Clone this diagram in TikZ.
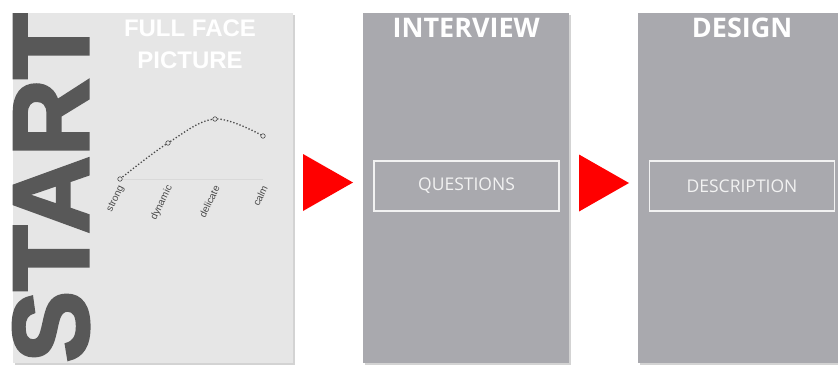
\documentclass[tikz,border=0pt]{standalone}
\usepackage{fontspec}
\setmainfont{Open Sans}
\newfontfamily\arialfont{Liberation Sans}
\newfontfamily\startfont[FakeBold=3]{Liberation Sans}
\usetikzlibrary{positioning,shapes.geometric,shadows}

\definecolor{facegrey}{HTML}{E6E6E6}
\definecolor{panelgrey}{HTML}{A9A9AE}
\definecolor{startgrey}{HTML}{585858}
\definecolor{curvegrey}{HTML}{4A4A4A}
\definecolor{textwhite}{HTML}{F2F2F2}

\tikzset{
  panel/.style={anchor=north west, inner sep=0pt, minimum height=350pt,
    drop shadow={shadow xshift=2pt, shadow yshift=-2pt, opacity=0.35}},
  headline/.style={inner sep=0pt, text=white, font=\bfseries\fontsize{27}{27}\selectfont},
  stagebox/.style={draw=textwhite, line width=1.1pt, minimum width=185pt, minimum height=50pt,
    inner sep=0pt, text=textwhite, font=\fontsize{17.5}{17.5}\selectfont},
  pointer/.style={isosceles triangle, isosceles triangle stretches, fill=red, draw=none,
    minimum width=57pt, minimum height=50pt, inner sep=0pt, outer sep=0pt, anchor=apex},
  mark dot/.style={circle, draw=curvegrey, fill=facegrey, line width=0.6pt,
    minimum size=4.5pt, inner sep=0pt},
  axislbl/.style={rotate=64, anchor=east, inner sep=0pt, text=curvegrey,
    font=\arialfont\fontsize{10}{10}\selectfont}
}

\begin{document}
\begin{tikzpicture}[x=1pt,y=-1pt]
  \useasboundingbox (0,0) rectangle (838,367);

  % the three panels
  \node (face) [panel, fill=facegrey, minimum width=280pt] at (13,13) {};
  \node (int)  [panel, fill=panelgrey, minimum width=206pt] at (363,13) {};
  \node (des)  [panel, fill=panelgrey, minimum width=202pt] at (638,13) {};

  % big START word along the left edge
  \node (start) [rotate=90, anchor=north, inner sep=0pt, text=startgrey,
    font=\startfont\bfseries\fontsize{107}{107}\selectfont] at (13,188) {START};

  % titles
  \node (facettl) [headline, align=center, font=\arialfont\bfseries\fontsize{24}{32}\selectfont] at (190,44) {FULL FACE\\PICTURE};
  \node (intttl)  [headline, below=5pt of int.north] {INTERVIEW};
  \node (desttl)  [headline, below=5pt of des.north, xshift=3pt] {DESIGN};

  % small chart
  \coordinate (strong)   at (120,179);
  \coordinate (dynamic)  at (168,143);
  \coordinate (delicate) at (215,119);
  \coordinate (calm)     at (263,136);
  \draw [black!15, line width=0.6pt] (strong) -- (strong -| calm);
  \draw [curvegrey, line width=1.3pt, dotted] plot [smooth, tension=0.6]
    coordinates {(strong) (dynamic) (delicate) (calm)};
  \foreach \p in {strong,dynamic,delicate,calm}{
    \node (\p dot) [mark dot] at (\p) {};
    \coordinate (\p base) at (\p |- strong);
    \node (\p lbl) [axislbl] at ([xshift=2pt,yshift=-7pt]\p base) {\p};
  }

  % stages
  \node (quest) [stagebox] at (466.5,186) {QUESTIONS};
  \node (descr) [stagebox] at (742,186) {DESCRIPTION};

  % red arrows
  \node (go1) [pointer] at (353,182.5) {};
  \node (go2) [pointer] at (629,183) {};
\end{tikzpicture}
\end{document}
